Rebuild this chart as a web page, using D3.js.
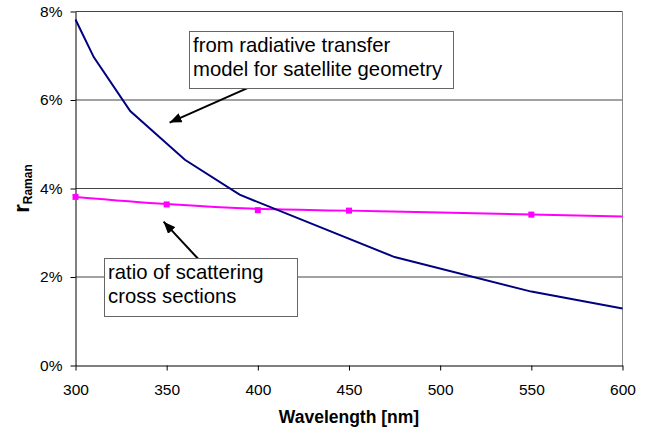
<!DOCTYPE html>
<html>
<head>
<meta charset="utf-8">
<script src="https://cdn.jsdelivr.net/npm/d3@7"></script>
<style>
    body { margin: 0; background: #fff; }
    svg { font-family: Arial, "Liberation Sans", sans-serif; }
    .axis text { font-size: 15.5px; fill: #000; }
    .axis path, .axis line { stroke: #000; }
</style>
</head>
<body>
<svg class="chart" width="654" height="435"></svg>
<script>
// Radiative transfer model (blue line), wavelength in nm and value in %
var modelWl = [300, 310, 330, 360, 390, 475, 550, 600];
var modelVal = [7.82, 6.97, 5.75, 4.65, 3.86, 2.45, 1.67, 1.29];

// Ratio of scattering cross sections: smooth line + square markers
var ratioLineWl = [300, 350, 400, 450, 500, 550, 600];
var ratioLineVal = [3.81, 3.65, 3.54, 3.50, 3.46, 3.41, 3.37];
var ratioMarkWl = [300, 350, 400, 450, 550];
var ratioMarkVal = [3.81, 3.64, 3.51, 3.50, 3.41];

// Tick labels
var xTicks = [300, 350, 400, 450, 500, 550, 600];
var yTicks = [0, 2, 4, 6, 8];

// Text boxes with arrows (positions in data units)
var boxLines1 = ["from radiative transfer", "model for satellite geometry"];
var boxLines2 = ["ratio of scattering", "cross sections"];

const plotLeft = 75.5, plotRight = 622.5, plotTop = 11.5, plotBottom = 365.5;

var svg = d3.select(".chart");

var x = d3.scaleLinear().domain([300, 600]).range([plotLeft, plotRight]);
var y = d3.scaleLinear().domain([0, 8]).range([plotBottom, plotTop]);

/**** Gridlines + plot border ****/
svg.append("g")
    .selectAll("line")
    .data(yTicks.filter(function(d) { return d > 0; }))
    .enter()
    .append("line")
    .attr("x1", plotLeft)
    .attr("x2", plotRight)
    .attr("y1", function(d) { return y(d); })
    .attr("y2", function(d) { return y(d); })
    .style("stroke", "#444")
    .style("stroke-width", 1);

svg.append("line")
    .attr("x1", plotRight).attr("x2", plotRight)
    .attr("y1", plotTop).attr("y2", plotBottom)
    .style("stroke", "#888");

/**** Axes ****/
var xAxis = d3.axisBottom(x)
    .tickValues(xTicks)
    .tickSize(5)
    .tickPadding(13)
    .tickSizeOuter(0);

svg.append("g")
    .attr("class", "axis")
    .attr("transform", "translate(0," + plotBottom + ")")
    .call(xAxis);

var yAxis = d3.axisLeft(y)
    .tickValues(yTicks)
    .tickSize(5)
    .tickPadding(8)
    .tickSizeOuter(0)
    .tickFormat(function(d) { return d + "%"; });

svg.append("g")
    .attr("class", "axis")
    .attr("transform", "translate(" + plotLeft + ",0)")
    .call(yAxis);

// Axis titles
svg.append("text")
    .attr("x", (plotLeft + plotRight) / 2)
    .attr("y", 423)
    .attr("text-anchor", "middle")
    .style("font-size", "17.5px")
    .style("font-weight", "bold")
    .text("Wavelength [nm]");

var yTitle = svg.append("text")
    .attr("transform", "translate(29," + ((plotTop + plotBottom) / 2) + ") rotate(-90)")
    .attr("text-anchor", "middle")
    .style("font-weight", "bold");
yTitle.append("tspan").style("font-size", "22px").text("r");
yTitle.append("tspan").style("font-size", "12px").attr("dy", 3).text("Raman");

/**** Lines ****/
var modelPts = modelWl.map(function(d, i) { return [d, modelVal[i]]; });
var ratioPts = ratioLineWl.map(function(d, i) { return [d, ratioLineVal[i]]; });

var line = d3.line()
    .x(function(d) { return x(d[0]); })
    .y(function(d) { return y(d[1]); });

svg.append("path")
    .datum(ratioPts)
    .attr("d", line.curve(d3.curveMonotoneX))
    .style("fill", "none")
    .style("stroke", "#ff00ff")
    .style("stroke-width", 2);

svg.selectAll(".mark")
    .data(ratioMarkWl)
    .enter()
    .append("rect")
    .attr("class", "mark")
    .attr("x", function(d) { return x(d) - 3; })
    .attr("y", function(d, i) { return y(ratioMarkVal[i]) - 3; })
    .attr("width", 6)
    .attr("height", 6)
    .style("fill", "#ff00ff");

svg.append("path")
    .datum(modelPts)
    .attr("d", line.curve(d3.curveLinear))
    .style("fill", "none")
    .style("stroke", "#000080")
    .style("stroke-width", 2);

/**** Annotations ****/
svg.append("defs")
    .append("marker")
    .attr("id", "head")
    .attr("markerUnits", "userSpaceOnUse")
    .attr("viewBox", "0 0 12 10")
    .attr("refX", 12)
    .attr("refY", 5)
    .attr("markerWidth", 12)
    .attr("markerHeight", 10)
    .attr("orient", "auto")
    .append("path")
    .attr("d", "M0,0L12,5L0,10Z")
    .style("fill", "#000");

function textBox(x0, x1, v0, v1, lines) {
    var bx = Math.round(x(x0)) + 0.5, by = Math.round(y(v0)) + 0.5;
    svg.append("rect")
        .attr("x", bx)
        .attr("y", by)
        .attr("width", Math.round(x(x1) - x(x0)))
        .attr("height", Math.round(y(v1) - y(v0)))
        .style("fill", "#fff")
        .style("stroke", "#666");
    lines.forEach(function(t, i) {
        svg.append("text")
            .attr("x", bx + 3.5)
            .attr("y", by + 20 + i * 24)
            .style("font-size", "20.3px")
            .text(t);
    });
}

function arrow(w0, v0, w1, v1) {
    svg.append("line")
        .attr("x1", x(w0)).attr("y1", y(v0))
        .attr("x2", x(w1)).attr("y2", y(v1))
        .style("stroke", "#000")
        .style("stroke-width", 2)
        .attr("marker-end", "url(#head)");
}

arrow(394.9, 6.28, 351.6, 5.49);
textBox(362, 507, 7.55, 6.26, boxLines1);

arrow(367.5, 2.40, 348.3, 3.25);
textBox(315.9, 421.8, 2.42, 1.11, boxLines2);
</script>
</body>
</html>
